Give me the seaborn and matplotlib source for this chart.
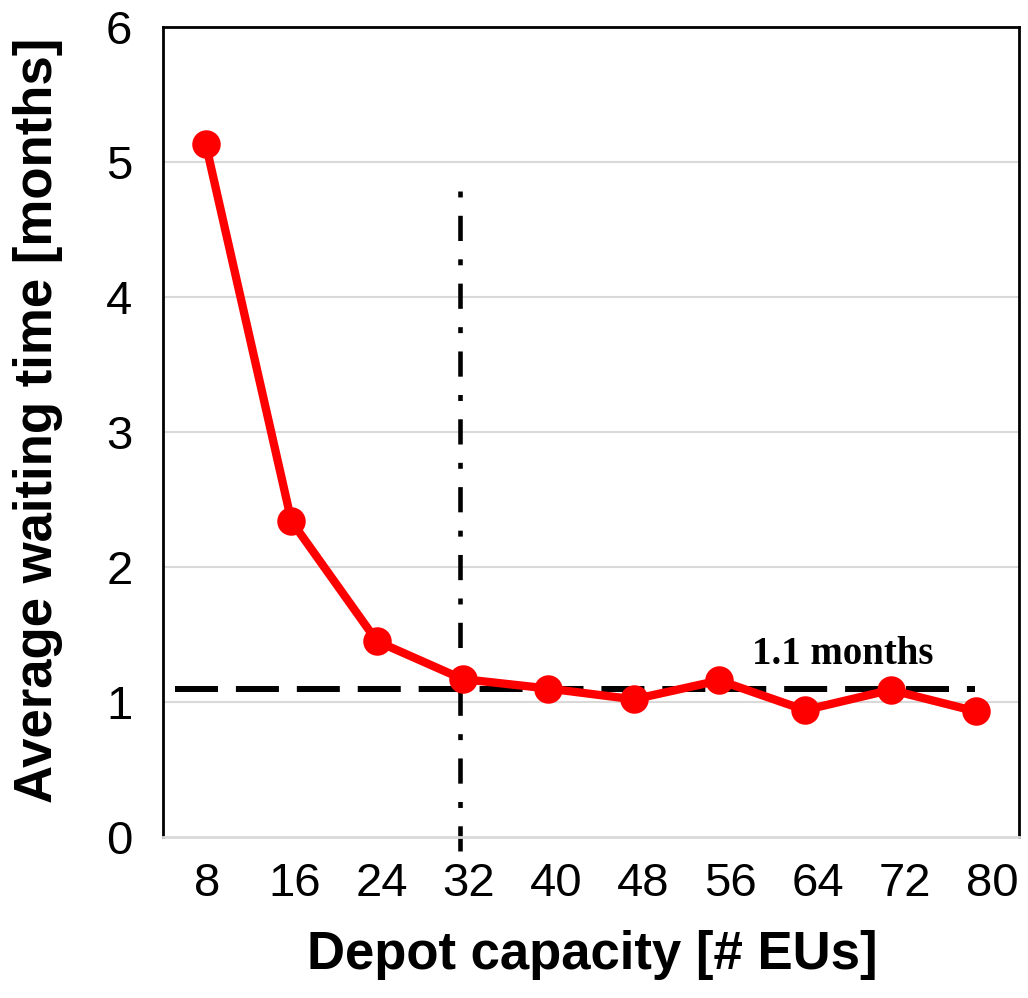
import matplotlib
matplotlib.use("Agg")
import matplotlib.pyplot as plt
import seaborn as sns
import pandas as pd
import numpy as np

capacity = ["8", "16", "24", "32", "40", "48", "56", "64", "72", "80"]
waiting = [5.13, 2.34, 1.45, 1.17, 1.10, 1.02, 1.16, 0.94, 1.09, 0.93]
avg_level = 1.1
avg_label = "1.1 months"
chosen = "32"
y_ticks = [0, 1, 2, 3, 4, 5, 6]

sns.set_theme(style="white")
plt.rcParams['font.family'] = ['Liberation Sans', 'DejaVu Sans']
plt.rcParams['text.color'] = 'black'
plt.rcParams['axes.labelcolor'] = 'black'
plt.rcParams['xtick.color'] = 'black'
plt.rcParams['ytick.color'] = 'black'

df = pd.DataFrame({"capacity": capacity, "waiting": waiting})

fig = plt.figure(figsize=(10.28, 9.98), dpi=100)
ax = fig.add_axes([0.1586, 0.1613, 0.8326, 0.8116])

for y in y_ticks[1:-1]:
    ax.axhline(y, color="#d9d9d9", lw=1.5, zorder=0)

sns.pointplot(data=df, x="capacity", y="waiting", order=capacity, color="#ff0000",
              markers="o", markersize=16, linewidth=6, ax=ax, zorder=3)

xi = capacity.index(chosen)
ax.plot([-0.36, 8.99], [avg_level, avg_level], color="black", lw=4.3,
        dashes=(7.2, 3), zorder=2)
ax.plot([xi - 0.03, xi - 0.03], [-0.1, 4.84], color="black", lw=3.3,
        dashes=(5.5, 4, 1.3, 4), clip_on=False, zorder=2)
ax.text(xi + 4.44, avg_level + 0.25, avg_label, fontsize=28, fontweight="bold",
        family=["Liberation Serif", "DejaVu Serif"], ha="center", va="center")

ax.set_ylim(0, 6)
ax.set_xlim(-0.5, len(capacity) - 0.5)
ax.set_yticks(y_ticks)
# tick labels in the reference are spread slightly wider than the category centres
ax.set_xticks(0.014 + np.arange(len(capacity)) * 1.019, capacity)
ax.tick_params(axis="both", length=0, labelsize=34)
ax.tick_params(axis="y", pad=22)
ax.tick_params(axis="x", pad=18)

for s in ["left", "top", "right"]:
    ax.spines[s].set_color("black")
    ax.spines[s].set_linewidth(2)
ax.spines["bottom"].set_color("#d9d9d9")
ax.spines["bottom"].set_linewidth(2)

ax.set_xlabel("Depot capacity [# EUs]", fontsize=38, fontweight="bold")
ax.set_ylabel("Average waiting time [months]", fontsize=38, fontweight="bold")
ax.xaxis.set_label_coords(0.501, -0.146)
ax.yaxis.set_label_coords(-0.146, 0.515)
ax.xaxis.label.set_va("center")
ax.yaxis.label.set_va("center")

fig.savefig("out.png", dpi=100)
